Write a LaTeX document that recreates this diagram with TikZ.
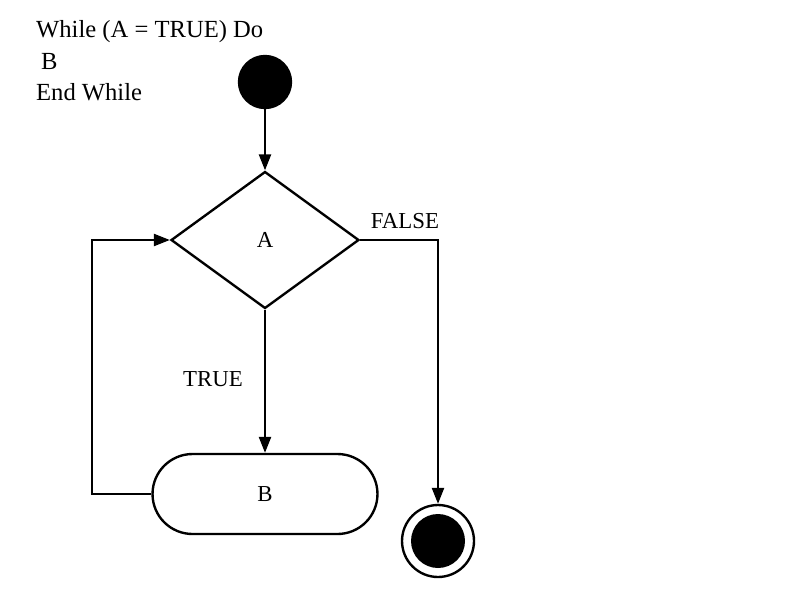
\documentclass[tikz,border=0pt]{standalone}
\usepackage{fontspec}
\setmainfont{Liberation Serif}
\usepackage{tikz}
\usetikzlibrary{shapes,arrows.meta,positioning}

\tikzset{
  startdot/.style={draw, circle, fill=black, minimum size=1.04cm, inner sep=0pt},
  enddot/.style={draw, circle, fill=white, minimum size=1.44cm, inner sep=0pt},
  enddotin/.style={circle, fill=black, minimum size=1.08cm, inner sep=0pt},
  decision/.style={draw, diamond, minimum width=3.76cm, minimum height=2.74cm, inner sep=0pt},
  action/.style={draw, rounded rectangle, minimum width=4.5cm, minimum height=1.6cm, inner sep=0pt},
  flow/.style={-{Triangle[length=3.2mm, width=2.4mm]}}
}

\begin{document}
\begin{tikzpicture}[x=0.02cm, y=-0.02cm, line width=1.35pt, font=\fontsize{13}{15}\selectfont]
  \useasboundingbox (0,0) rectangle (800,605);

  % pseudo code
  \node[anchor=north west, align=left, inner sep=0pt, font=\fontsize{14}{18.1}\selectfont] (code) at (35,19)
    {While (A = TRUE) Do\\\hspace*{0.1cm}B\\End While};

  % Activity nodes
  \node[startdot] (start) at (265,82) {};
  \node[decision] (cond) at (265,240) {A};
  \node[action] (body) at (265,494) {B};
  \node[enddot] (stop) at (438,541) {};
  \node[enddotin] (stopin) at (438,541) {};

  % helper corners
  \coordinate (loopbot) at (92,494);
  \coordinate (looptop) at (92,240);
  \coordinate (falsecorner) at (438,240);

  % labels
  \node (truelbl) at (213,379) {TRUE};
  \node (falselbl) at (405,221) {FALSE};

  % Arrows
  \draw[flow] (start) -- (cond);
  \draw[flow] (cond.south) -- (body.north);
  \draw[flow] (body.west) -- (loopbot) -- (looptop) -- (cond.west);
  \draw[flow] (cond.east) -- (falsecorner) -- (stop.north);
\end{tikzpicture}
\end{document}
